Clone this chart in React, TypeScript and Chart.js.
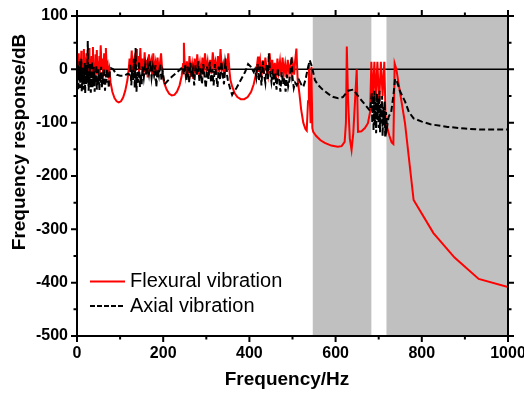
import React, { useEffect, useRef } from "react";
import { Chart, registerables } from "chart.js";

Chart.register(...registerables);

const FONT = "'Liberation Sans', Arial, sans-serif";

// Axis ranges and tick steps
const xRange = [0, 1000];
const yRange = [-500, 100];
const xMajorStep = 200;
const xMinorStep = 100;
const yMajorStep = 100;
const yMinorStep = 50;

// Shaded frequency bands (Hz)
const shadedBands: [number, number][] = [
  [547, 683],
  [718, 1000],
];

const seriesNames = ["Flexural vibration", "Axial vibration"];

// Flexural vibration: [frequency Hz, response dB]
const flexuralPoints: [number, number][] = [
  [0, 10], [1, 25], [2, -5], [4, 30], [5, -15], [7, 20], [8, -10], [10, 35], [11, -5], [13, 15],
  [14, -20], [16, 38], [17, 0], [19, 22], [20, -10], [22, 30], [23, -12], [25, 10], [26, -18], [28, 40],
  [29, -5], [31, 18], [32, -15], [34, 25], [35, -8], [37, 42], [38, -2], [40, 12], [41, -20], [43, 28],
  [44, -10], [46, 36], [47, -5], [49, 15], [50, -15], [52, 25], [53, -8], [55, 45], [57, 0], [59, 20],
  [61, -15], [63, 30], [65, -5], [67, 40], [69, 5], [71, 10], [73, -10], [75, 0],
  [78, -25], [82, -42], [87, -54], [92, -60], [97, -62], [102, -60], [107, -53], [112, -40], [117, -20], [120, 0],
  [122, 20], [124, -5], [127, 35], [129, 0], [132, 15], [134, -10], [137, 38], [139, 5], [142, 25], [144, -8],
  [147, 40], [149, 0], [152, 20], [154, -12], [157, 32], [159, -5], [162, 18], [164, -15], [167, 28], [169, 2],
  [172, 15], [174, -10], [177, 30], [179, -2], [182, 12], [184, -12], [187, 22], [189, 0], [192, 8], [195, 30],
  [198, -5],
  [202, -25], [208, -38], [214, -46], [220, -49], [226, -48], [232, -42], [238, -30], [243, -12], [246, 10],
  [248, 50], [250, 5],
  [252, -10], [255, 15], [258, -15], [261, 25], [264, -5], [267, 10], [270, -18], [273, 20], [276, -8], [279, 28],
  [282, -2], [285, 12], [288, -15], [291, 22], [294, -5], [297, 30], [300, 0], [303, 15], [306, -12], [309, 18],
  [312, -8], [315, 32], [318, 5], [321, 15], [324, -10], [327, 25], [330, -5], [333, 38], [336, 0], [339, 10],
  [342, -15], [345, 20], [348, -5], [351, 30], [354, -5], [356, -20],
  [360, -32], [366, -45], [372, -52], [380, -56], [388, -56], [396, -52], [404, -42], [410, -28], [415, -10], [418, 10],
  [420, 24], [422, -5], [425, 15], [428, -15], [431, 17], [434, -8], [437, 22], [440, 0], [443, -12], [447, 30],
  [450, -5], [453, 18], [456, -10], [459, 12], [462, -18], [465, 20], [468, -5], [471, 15], [474, -12], [477, 22],
  [480, -8], [483, 10], [486, -15], [489, 18], [492, -5], [495, 8], [498, -12], [501, 10], [504, -10], [506, 15],
  [509, 39], [512, -20], [516, -45], [520, -75], [525, -100], [530, -112], [533, -115], [536, -60], [538, 8], [540, -50],
  [542, -101], [544, 5], [546, -110], [548, -117],
  [555, -125], [565, -133], [575, -138], [590, -143], [605, -145], [614, -144], [621, -136], [624, -100], [626, 43], [629, -60],
  [633, -130], [637, -151], [641, -120], [645, -60], [649, 0], [652, -117], [660, -116], [668, -110], [675, -101], [680, -80],
  [683, 14], [686, -55], [690, 14], [693, -60], [697, 14], [701, -65], [705, 14], [709, -50], [713, 14], [716, -90],
  [720, -110], [725, -125], [730, -137], [734, -140], [737, 11], [741, 0], [746, -26], [761, -101], [781, -245],
  [827, -307], [876, -353], [932, -393], [1000, -408],
];

// Axial vibration: [frequency Hz, response dB]
const axialPoints: [number, number][] = [
  [0, -5], [1, -30], [2, 10], [3, -40], [4, 0], [5, -20], [6, 15], [7, -35], [8, -5], [9, -25],
  [10, 20], [11, -42], [12, -8], [13, -28], [14, 5], [15, -38], [16, -10], [17, -20], [18, 12], [19, -45],
  [20, -5], [21, -30], [22, 8], [23, -25], [24, 0], [25, 53], [26, -15], [27, -40], [28, -5], [29, -30],
  [30, 10], [31, -20], [32, -44], [33, -8], [34, -25], [35, 15], [36, -35], [37, -10], [38, -30], [39, 5],
  [41, -42], [42, -12], [43, -25], [45, 8], [46, -38], [47, -15], [49, -30], [50, 0], [52, -40], [53, -10],
  [55, -25], [56, 5], [58, -35], [59, -12], [61, -28], [62, 2], [64, -20], [65, -40], [67, -8], [68, -25],
  [70, 0], [72, -18], [74, -35], [76, -5], [79, 2], [84, 0], [92, -10], [100, -12], [110, -12], [118, -8],
  [122, -10], [124, 10], [126, -30], [128, 0], [130, -20], [132, 20], [134, -35], [136, 40], [138, -42], [140, -5],
  [142, -25], [144, 15], [146, -33], [148, -10], [150, -28], [152, 5], [155, -15], [158, 8], [161, -12], [164, 10],
  [167, -8], [170, 15], [173, -15], [176, 5], [179, -10], [182, 8], [184, -33], [187, 0], [190, -12], [193, 10],
  [196, -20], [199, -5], [203, -28], [210, -22], [220, -14], [230, -7], [240, 0], [245, 5],
  [248, -10], [251, 10], [254, -20], [257, 5], [260, -25], [263, 12], [266, -15], [269, 0], [272, -30], [275, 8],
  [278, -12], [281, 15], [284, -22], [287, 2], [290, -28], [293, 10], [296, -15], [299, -35], [302, 5], [305, -18],
  [308, 14], [311, -25], [314, 0], [317, -30], [320, 10], [323, -12], [326, -33], [329, 5], [332, -20], [335, 14],
  [338, -10], [341, -28], [344, 12], [347, -5], [350, -20], [355, -35], [360, -48], [364, -42],
  [370, -35], [380, -20], [390, -5], [397, 10], [403, 5], [410, -5], [413, 0],
  [416, -15], [419, 10], [422, -22], [425, 5], [428, -30], [431, 15], [434, -10], [437, -25], [440, 8], [443, -18],
  [445, 30], [448, -5], [451, -23], [454, 0], [457, -30], [460, -8], [463, -38], [466, 2], [469, -20], [472, -42],
  [475, -5], [478, -28], [481, -15], [484, -42], [487, -10], [490, -32], [493, -20], [496, 5], [498, 24], [500, -15],
  [503, -35], [506, -25], [510, -30], [515, -20], [520, -28], [525, -33], [530, -20], [535, 0], [540, 17], [545, 5],
  [552, -20], [560, -30], [570, -38], [583, -46], [595, -52], [606, -54], [617, -52], [629, -40], [641, -38], [652, -50],
  [662, -60], [672, -70], [680, -78],
  [684, -45], [685, -100], [687, -50], [688, -115], [690, -40], [691, -105], [693, -60], [694, -120], [696, -45], [697, -95],
  [699, -55], [700, -110], [702, -40], [703, -118], [705, -65], [706, -100], [708, -50], [709, -125], [711, -70], [712, -105],
  [714, -60], [715, -126], [717, -80], [719, -110], [723, -89], [729, -80], [734, -50], [738, -18], [742, -22], [750, -42],
  [761, -60], [770, -80], [781, -92], [800, -98], [820, -103], [860, -108], [900, -111], [935, -113], [1000, -113],
];

const decorPlugin = {
  id: "decor",
  beforeDatasetsDraw(chart: any) {
    const { ctx, chartArea: a, scales } = chart;
    const x = scales.x;
    const y = scales.y;
    ctx.save();
    ctx.fillStyle = "#c0c0c0";
    for (const [s, e] of shadedBands) {
      const x0 = x.getPixelForValue(s);
      const x1 = x.getPixelForValue(e);
      ctx.fillRect(x0, a.top, x1 - x0, a.bottom - a.top);
    }
    const y0 = y.getPixelForValue(0);
    ctx.strokeStyle = "#000";
    ctx.lineWidth = 1.5;
    ctx.beginPath();
    ctx.moveTo(a.left, y0);
    ctx.lineTo(a.right, y0);
    ctx.stroke();
    ctx.restore();
  },
  afterDraw(chart: any) {
    const { ctx, chartArea: a, scales } = chart;
    const x = scales.x;
    const y = scales.y;
    ctx.save();
    ctx.strokeStyle = "#000";
    ctx.lineWidth = 2;
    ctx.strokeRect(a.left, a.top, a.right - a.left, a.bottom - a.top);
    ctx.beginPath();
    for (let v = xRange[0]; v <= xRange[1]; v += xMinorStep) {
      const len = v % xMajorStep === 0 ? 6 : 3.5;
      const px = x.getPixelForValue(v);
      ctx.moveTo(px, a.bottom);
      ctx.lineTo(px, a.bottom + len);
      ctx.moveTo(px, a.top);
      ctx.lineTo(px, a.top - len);
    }
    for (let v = yRange[0]; v <= yRange[1]; v += yMinorStep) {
      const len = v % yMajorStep === 0 ? 6 : 3.5;
      const py = y.getPixelForValue(v);
      ctx.moveTo(a.left, py);
      ctx.lineTo(a.left - len, py);
      ctx.moveTo(a.right, py);
      ctx.lineTo(a.right + len, py);
    }
    ctx.stroke();

    // axis titles
    ctx.fillStyle = "#000";
    ctx.font = `bold 19px ${FONT}`;
    ctx.textAlign = "center";
    ctx.textBaseline = "middle";
    ctx.fillText("Frequency/Hz", 287, 380);
    ctx.save();
    ctx.translate(20, 142);
    ctx.rotate(-Math.PI / 2);
    ctx.fillText("Frequency response/dB", 0, 0);
    ctx.restore();

    // legend
    const items = [
      { label: seriesNames[0], color: "#ff0000", dash: [] as number[], y: 281.5 },
      { label: seriesNames[1], color: "#000000", dash: [5, 2], y: 306 },
    ];
    ctx.font = `20px ${FONT}`;
    ctx.textAlign = "left";
    for (const it of items) {
      ctx.strokeStyle = it.color;
      ctx.lineWidth = 2;
      ctx.setLineDash(it.dash);
      ctx.beginPath();
      ctx.moveTo(90, it.y);
      ctx.lineTo(125, it.y);
      ctx.stroke();
      ctx.setLineDash([]);
      ctx.fillStyle = "#000";
      ctx.fillText(it.label, 130, it.y);
    }
    ctx.restore();
  },
};

export default function App() {
  const canvasRef = useRef<HTMLCanvasElement | null>(null);

  useEffect(() => {
    const canvas = canvasRef.current;
    if (!canvas) return;
    const chart = new Chart(canvas, {
      type: "line",
      data: {
        datasets: [
          {
            label: seriesNames[0],
            data: flexuralPoints.map(([hz, db]) => ({ x: hz, y: db })),
            borderColor: "#ff0000",
            borderWidth: 2,
            pointRadius: 0,
            tension: 0,
            fill: false,
            order: 1,
          },
          {
            label: seriesNames[1],
            data: axialPoints.map(([hz, db]) => ({ x: hz, y: db })),
            borderColor: "#000000",
            borderWidth: 2,
            borderDash: [6, 3],
            pointRadius: 0,
            tension: 0,
            fill: false,
            order: 0,
          },
        ],
      },
      options: {
        animation: false,
        responsive: false,
        maintainAspectRatio: false,
        devicePixelRatio: 1,
        layout: { padding: { top: 16, right: 16, left: 0, bottom: 0 } },
        plugins: { legend: { display: false }, tooltip: { enabled: false } },
        scales: {
          x: {
            type: "linear",
            min: xRange[0],
            max: xRange[1],
            grid: { display: false, drawTicks: false },
            border: { display: false },
            ticks: {
              stepSize: xMajorStep,
              padding: 8,
              color: "#000",
              font: { family: FONT, size: 16, weight: "bold" },
              maxRotation: 0,
              callback: (v: any) => String(v),
            },
            afterFit: (s: any) => {
              s.height = 58;
              s.paddingLeft = 0;
              s.paddingRight = 0;
            },
          },
          y: {
            type: "linear",
            min: yRange[0],
            max: yRange[1],
            grid: { display: false, drawTicks: false },
            border: { display: false },
            ticks: {
              stepSize: yMajorStep,
              padding: 9,
              color: "#000",
              font: { family: FONT, size: 16, weight: "bold" },
              callback: (v: any) => String(v),
            },
            afterFit: (s: any) => {
              s.width = 77;
              s.paddingTop = 0;
              s.paddingBottom = 0;
            },
          },
        },
      },
      plugins: [decorPlugin],
    });
    return () => chart.destroy();
  }, []);

  return (
    <div style={{ position: "fixed", left: 0, top: 0, width: 524, height: 394, background: "#fff" }}>
      <canvas ref={canvasRef} width={524} height={394} style={{ width: 524, height: 394, display: "block" }} />
    </div>
  );
}
